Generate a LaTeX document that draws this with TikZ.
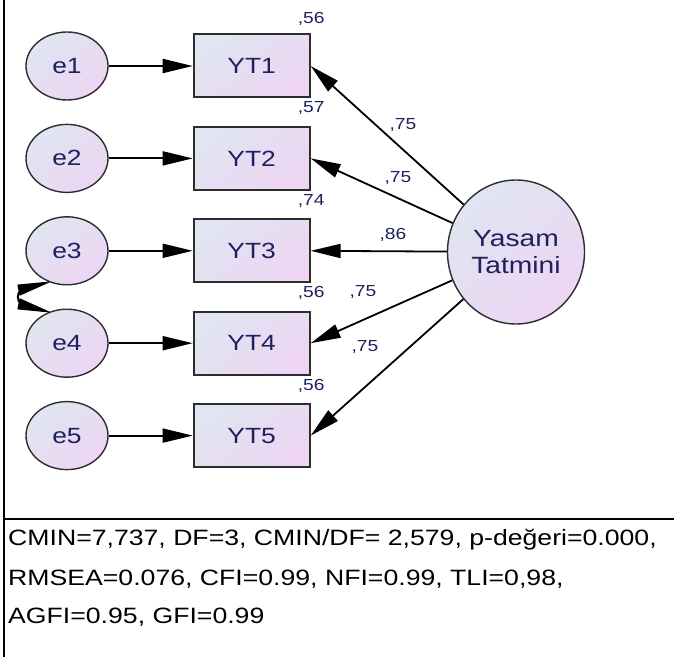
\documentclass[tikz,border=0pt]{standalone}
\usepackage{fontspec}
\setmainfont{Liberation Sans}
\newfontfamily\widefont[FakeStretch=1.2]{Liberation Sans}
\usetikzlibrary{shapes.geometric,arrows.meta,positioning}
\definecolor{shadeblue}{RGB}{224,229,241}
\definecolor{shadepink}{RGB}{237,213,243}
\definecolor{inknavy}{RGB}{30,32,95}
\definecolor{rimgray}{RGB}{45,45,45}

\begin{document}
\begin{tikzpicture}
  [x=1pt,y=1pt,
    every node/.style={text=inknavy, font=\widefont\fontsize{22}{27}\selectfont},
    shaded/.style={draw=rimgray, top color=shadeblue, bottom color=shadepink, shading angle=40},
    err/.style={shaded, ellipse, line width=1.4pt, minimum width=82pt, minimum height=68pt, inner sep=0pt},
    obs/.style={shaded, rectangle, line width=2pt, minimum width=116pt, minimum height=63pt},
    lat/.style={shaded, ellipse, line width=1.4pt, minimum width=137pt, minimum height=144pt, align=center, inner sep=0pt,
      font=\widefont\fontsize{23.5}{27}\selectfont},
    path/.style={-{Triangle[length=30pt,width=14pt]}, line width=1.8pt},
    covhead/.style={fill=black, draw=black, line width=1pt, line join=round},
    rsq/.style={font=\widefont\fontsize{16}{16}\selectfont, inner sep=0pt, anchor=base east},
    load/.style={font=\widefont\fontsize{16}{16}\selectfont, inner sep=0pt},
    stat/.style={text=black, font=\widefont\fontsize{22.2}{22}\selectfont, inner sep=0pt, anchor=base west},
]
\useasboundingbox (0,0) rectangle (674,657);

% frame
\draw[line width=2pt] (4,0) -- (4,657);
\draw[line width=2pt] (4,138) -- (674,138);

% error terms
\node[err] (e1) at (67,591) {e1};
\node[err, below=23pt of e1] (e2) {e2};
\node[err, below=23pt of e2] (e3) {e3};
\node[err, below=23pt of e3] (e4) {e4};
\node[err, below=23pt of e4] (e5) {e5};

% indicators
\node[obs, right=84pt of e1] (YT1) {YT1};
\node[obs, right=84pt of e2] (YT2) {YT2};
\node[obs, right=84pt of e3] (YT3) {YT3};
\node[obs, right=84pt of e4] (YT4) {YT4};
\node[obs, right=84pt of e5] (YT5) {YT5};

% latent
\node[lat] (YT) at (516,405) {Yasam\\Tatmini};

% squared multiple correlations
\node[rsq] (r1) at ([xshift=14pt,yshift=10pt]YT1.north east) {,56};
\node[rsq] (r2) at ([xshift=14pt,yshift=13pt]YT2.north east) {,57};
\node[rsq] (r3) at ([xshift=14pt,yshift=13pt]YT3.north east) {,74};
\node[rsq] (r4) at ([xshift=14pt,yshift=13pt]YT4.north east) {,56};
\node[rsq] (r5) at ([xshift=14pt,yshift=13pt]YT5.north east) {,56};

% error paths
\draw[path] (e1) -- (YT1);
\draw[path] (e2) -- (YT2);
\draw[path] (e3) -- (YT3);
\draw[path] (e4) -- (YT4);
\draw[path] (e5) -- (YT5);

% loadings
\draw[path] (YT) -- (YT1.east);
\draw[path] (YT) -- (YT2.east);
\draw[path] (YT) -- (YT3.east);
\draw[path] (YT) -- (YT4.east);
\draw[path] (YT) -- (YT5.east);
\node[load] (w1) at (403,532) {,75};
\node[load] (w2) at (398,479) {,75};
\node[load] (w3) at (393,422) {,86};
\node[load] (w4) at (363,365) {,75};
\node[load] (w5) at (365,310) {,75};

% e3 <-> e4, AMOS style bow tie
\draw[line width=2pt] ([shift={(-28pt,-8pt)}]e3.240) to[bend right=50] ([shift={(-28pt,8pt)}]e4.120);
\filldraw[covhead] (e3.240) -- ++(-31pt,-3pt) -- ++(2pt,-10pt) -- cycle;
\filldraw[covhead] (e4.120) -- ++(-31pt,3pt) -- ++(2pt,10pt) -- cycle;

% fit indices
\node[stat] (fit1) at (8,112) {CMIN=7,737, DF=3, CMIN/DF= 2,579, p-değeri=0.000,};
\node[stat] (fit2) at (8,72) {RMSEA=0.076, CFI=0.99, NFI=0.99, TLI=0,98,};
\node[stat] (fit3) at (8,34) {AGFI=0.95, GFI=0.99};
\end{tikzpicture}
\end{document}
